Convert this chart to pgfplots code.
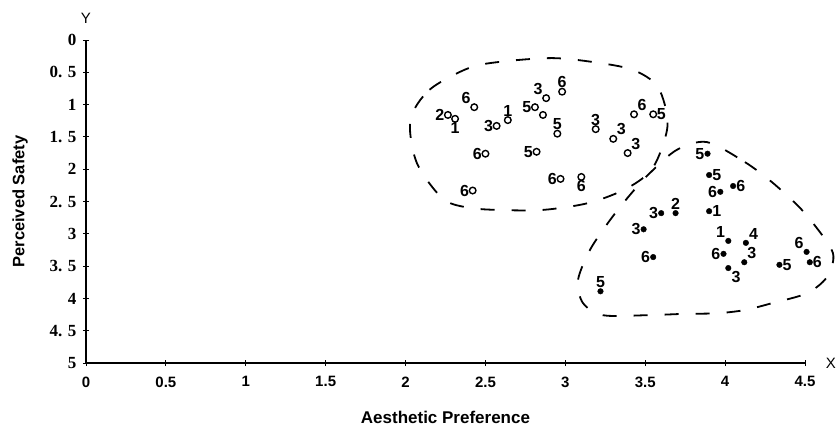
\documentclass[border=0pt]{standalone}
\usepackage{pgfplots}
\pgfplotsset{compat=1.18}
\usepackage{fontspec}
\setmainfont{Liberation Sans}
\newfontfamily\serifb{Liberation Serif}

\pgfplotsset{
  labelled/.style={
    point meta=explicit symbolic,
    nodes near coords,
    visualization depends on={value \thisrow{anc} \as \anc},
    every node near coord/.append style={font=\fontsize{16}{16}\selectfont\bfseries,
      anchor=\anc, inner sep=3pt},
  },
}

\begin{document}
\begin{tikzpicture}
\path[use as bounding box] (-86pt,-69pt) rectangle (754pt,363pt);
\begin{axis}[
  at={(0,0)}, anchor=south west,
  scale only axis, width=719pt, height=323pt,
  xmin=0, xmax=4.5, ymin=0, ymax=5, y dir=reverse,
  clip=false,
  axis x line=bottom, axis y line=left,
  axis line style={-, line width=1.3pt},
  tick align=center, major tick length=6pt,
  tick style={line width=0.9pt, black},
  xtick={0,0.5,...,4.5},
  xticklabels={0,0.5,1,1.5,2,2.5,3,3.5,4,4.5},
  ytick={0,0.5,...,5},
  yticklabels={0,{0. 5},1,{1. 5},2,{2. 5},3,{3. 5},4,{4. 5},5},
  xticklabel style={font=\fontsize{15}{15}\selectfont\bfseries, yshift=-7pt},
  yticklabel style={font=\fontsize{17}{17}\selectfont\serifb\bfseries, xshift=-3pt},
  xlabel={Aesthetic Preference},
  ylabel={Perceived Safety},
  xlabel style={at={(axis description cs:0.5,-0.170)}, anchor=center,
    font=\fontsize{17}{17}\selectfont\bfseries},
  ylabel style={at={(axis description cs:-0.0918,0.5)}, anchor=center,
    font=\fontsize{16.5}{17}\selectfont\bfseries},
]
% dashed outlines of the two groups
\addplot[black, line width=1.8pt, dash pattern=on 14pt off 17pt, smooth cycle] coordinates {
  (2.03,1.24) (2.15,0.77) (2.40,0.43) (2.62,0.33) (2.92,0.28) (3.17,0.34)
  (3.42,0.46) (3.58,0.73) (3.64,1.32) (3.55,1.97) (3.39,2.29) (3.15,2.52)
  (2.86,2.63) (2.57,2.63) (2.38,2.59) (2.23,2.45) (2.07,1.90)
};
\addplot[black, line width=1.8pt, dash pattern=on 14pt off 17pt, smooth cycle] coordinates {
  (3.886,1.58) (4.124,1.89) (4.293,2.20) (4.449,2.55) (4.549,2.83) (4.675,3.30)
  (4.637,3.67) (4.512,3.92) (4.299,4.07) (4.124,4.18) (3.949,4.23) (3.736,4.24)
  (3.511,4.26) (3.235,4.26) (3.110,4.07) (3.079,3.72) (3.154,3.25) (3.279,2.79)
  (3.404,2.40) (3.529,2.06) (3.698,1.70)
};
% open circles (upper group): x, y, label, label anchor
\addplot[only marks, mark=o, mark size=3.3pt, line width=1.4pt, black, labelled]
  table[col sep=comma, x=x, y=y, meta=lab] {
x,y,lab,anc
2.265,1.16,2,east
2.31,1.22,1,north
2.43,1.04,6,south east
2.57,1.33,3,east
2.64,1.24,1,south
2.81,1.04,5,east
2.88,0.90,3,south east
2.98,0.80,6,south
2.95,1.45,5,south
2.82,1.73,5,east
2.50,1.76,6,east
2.97,2.15,6,east
3.10,2.12,6,north
2.42,2.33,6,east
3.19,1.38,3,south
3.30,1.53,3,south west
3.39,1.75,3,south west
3.43,1.15,6,south west
3.55,1.15,5,west
};
\addplot[only marks, mark=o, mark size=3.3pt, line width=1.4pt, black] coordinates {(2.86,1.16)};
% filled dots (lower group)
\addplot[only marks, mark=*, mark size=2.8pt, black, labelled]
  table[col sep=comma, x=x, y=y, meta=lab] {
x,y,lab,anc
3.89,1.76,5,east
3.90,2.09,5,west
4.05,2.26,6,west
3.97,2.35,6,east
3.90,2.65,1,west
3.60,2.68,3,east
3.69,2.68,2,south
3.49,2.93,3,east
3.55,3.36,6,east
3.22,3.89,5,south
4.02,3.11,1,south east
4.13,3.14,4,south west
3.99,3.31,6,east
4.12,3.44,3,south west
4.02,3.53,3,north west
4.34,3.48,5,west
4.51,3.28,6,south east
4.53,3.44,6,west
};
\node[font=\fontsize{15}{15}\selectfont] at (axis description cs:1.036,0) {X};
\node[font=\fontsize{15}{15}\selectfont] at (axis description cs:0,1.068) {Y};
\end{axis}
\end{tikzpicture}
\end{document}
